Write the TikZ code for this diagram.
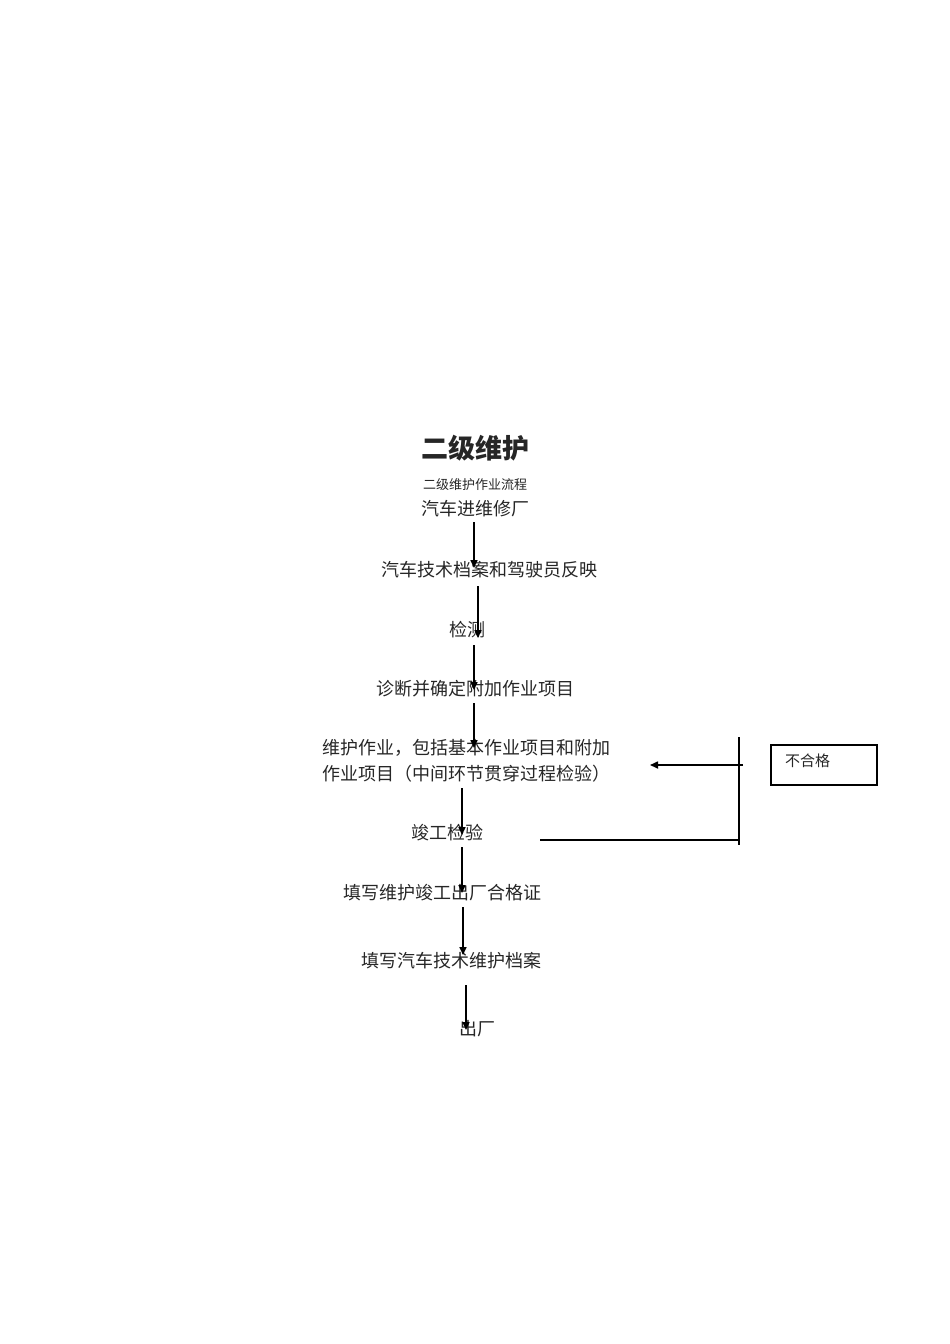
\documentclass[tikz,border=0pt]{standalone}
\usepackage{fontspec}
\newfontfamily\cjk{Noto Sans CJK SC}
\usetikzlibrary{arrows.meta}
\begin{document}
\begin{tikzpicture}[x=1pt,y=-1pt,
  txt/.style={inner sep=0pt,font=\cjk\fontsize{18}{24}\selectfont,text=black!85},
  arr/.style={-{Triangle[length=8pt,width=7pt]},line width=1.6pt},
  ln/.style={line width=1.6pt}]
\useasboundingbox (0,0) rectangle (950,1344);
\node[txt,font=\cjk\bfseries\fontsize{27}{30}\selectfont] (title) at (475,448) {二级维护};
\node[txt,font=\cjk\fontsize{13}{15}\selectfont] (sub) at (475,485) {二级维护作业流程};
\node[txt] (n1) at (475,509) {汽车进维修厂};
\node[txt] (n2) at (489,570) {汽车技术档案和驾驶员反映};
\node[txt] (n3) at (467,630) {检测};
\node[txt] (n4) at (475,689) {诊断并确定附加作业项目};
\node[txt,anchor=west,align=left,font=\cjk\fontsize{18}{26}\selectfont] (n5) at (322,761) {维护作业，包括基本作业项目和附加\\作业项目（中间环节贯穿过程检验）};
\node[txt] (n6) at (447,833) {竣工检验};
\node[txt] (n7) at (442,893) {填写维护竣工出厂合格证};
\node[txt] (n8) at (451,961) {填写汽车技术维护档案};
\node[txt] (n9) at (477,1029) {出厂};
\node[draw,line width=1.4pt,minimum width=106pt,minimum height=40pt,inner sep=0pt] (bad) at (824,765) {};
\node[txt,anchor=west,font=\cjk\fontsize{15}{17}\selectfont] (badt) at (785,761) {不合格};
\coordinate (a1s) at (474,522); \coordinate (a1e) at (474,568);
\coordinate (a2s) at (478,586); \coordinate (a2e) at (478,638);
\coordinate (a3s) at (474,645); \coordinate (a3e) at (474,690);
\coordinate (a4s) at (474,703); \coordinate (a4e) at (474,748);
\coordinate (a5s) at (462,788); \coordinate (a5e) at (462,835);
\coordinate (a6s) at (462,847); \coordinate (a6e) at (462,893);
\coordinate (a7s) at (463,907); \coordinate (a7e) at (463,955);
\coordinate (a8s) at (466,985); \coordinate (a8e) at (466,1030);
\foreach \i in {1,...,8} \draw[arr] (a\i s) -- (a\i e);
\coordinate (vt) at (739,737); \coordinate (vb) at (739,845);
\coordinate (hs) at (540,840); \coordinate (he) at (739,840);
\coordinate (fs) at (743,765); \coordinate (fe) at (650,765);
\draw[ln] (vt) -- (vb);
\draw[ln] (hs) -- (he);
\draw[arr] (fs) -- (fe);
\end{tikzpicture}
\end{document}
